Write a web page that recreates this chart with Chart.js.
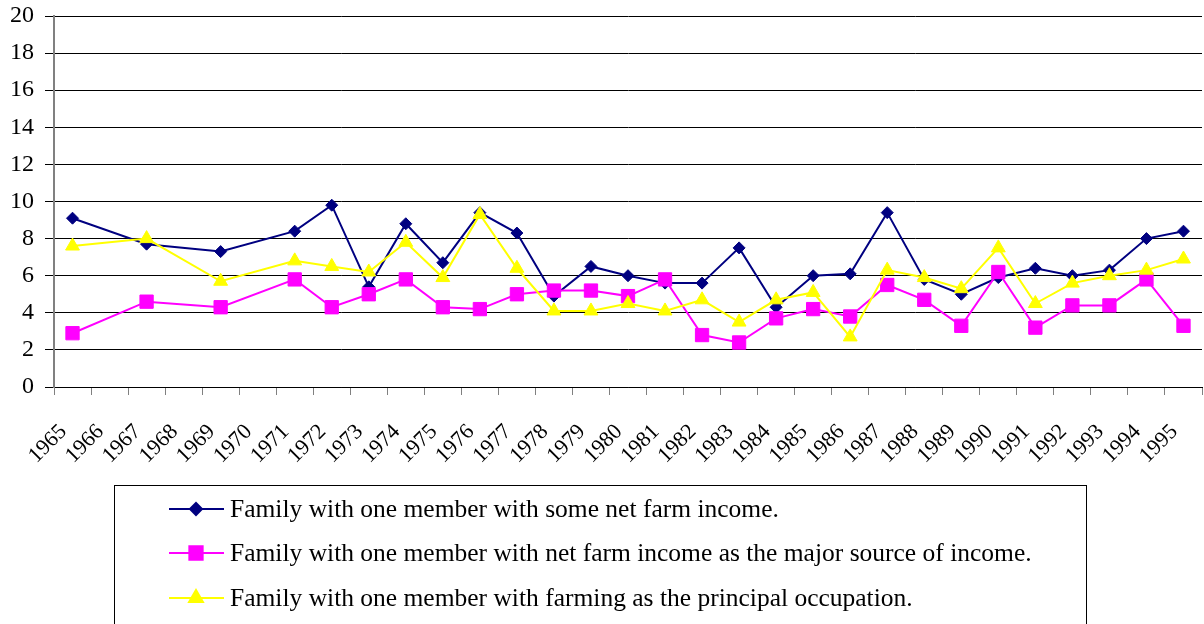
<!DOCTYPE html>
<html>
<head>
<meta charset="utf-8">
<script src="https://cdn.jsdelivr.net/npm/chart.js@4"></script>
<style>
  body { margin: 0; background: #fff; }
  canvas { display: block; }
</style>
</head>
<body>
<canvas id="farm" width="1204" height="624"></canvas>
<script>
var years = ['1965','1966','1967','1968','1969','1970','1971','1972','1973','1974','1975','1976','1977','1978','1979','1980',
             '1981','1982','1983','1984','1985','1986','1987','1988','1989','1990','1991','1992','1993','1994','1995'];

var someIncome = [9.1,null,7.7,null,7.3,null,8.4,9.8,5.4,8.8,6.7,9.4,8.3,4.9,6.5,6.0,
                  5.6,5.6,7.5,4.3,6.0,6.1,9.4,5.8,5.0,5.9,6.4,6.0,6.3,8.0,8.4];
var majorSource = [2.9,null,4.6,null,4.3,null,5.8,4.3,5.0,5.8,4.3,4.2,5.0,5.2,5.2,4.9,
                   5.8,2.8,2.4,3.7,4.2,3.8,5.5,4.7,3.3,6.2,3.2,4.4,4.4,5.8,3.3];
var principalOcc = [7.6,null,8.0,null,5.7,null,6.8,6.5,6.2,7.8,5.9,9.3,6.4,4.1,4.1,4.5,
                    4.1,4.7,3.5,4.7,5.1,2.7,6.3,5.9,5.3,7.5,4.5,5.6,6.0,6.3,6.9];

var seriesNames = ['Family with one member with some net farm income.',
                   'Family with one member with net farm income as the major source of income.',
                   'Family with one member with farming as the principal occupation.'];

var serif = "'Liberation Serif', 'DejaVu Serif', serif";

// legend drawn in a box like the original spreadsheet chart
var boxLegend = {
    id: 'boxLegend',
    afterDraw: function(chart) {
        var ctx = chart.ctx;
        ctx.save();
        ctx.strokeStyle = '#000';
        ctx.lineWidth = 1;
        ctx.strokeRect(114.5, 485.5, 972, 160);
        var rows = [509, 553, 598];
        chart.data.datasets.forEach(function(ds, i) {
            var y = rows[i];
            ctx.strokeStyle = ds.borderColor;
            ctx.lineWidth = 2;
            ctx.beginPath();
            ctx.moveTo(169, y);
            ctx.lineTo(224, y);
            ctx.stroke();
            ctx.fillStyle = ds.backgroundColor;
            ctx.strokeStyle = ds.borderColor;
            Chart.helpers.drawPoint(ctx, {pointStyle: ds.pointStyle, radius: ds.pointRadius, rotation: 0, borderWidth: 1}, 196, y);
            ctx.fillStyle = '#000';
            ctx.font = '25.5px ' + serif;
            ctx.textBaseline = 'middle';
            ctx.textAlign = 'left';
            ctx.fillText(ds.label, 230, y + 1);
        });
        ctx.restore();
    }
};

var ctx = document.getElementById('farm').getContext('2d');
var farmChart = new Chart(ctx, {
    type: 'line',
    data: {
        labels: years,
        datasets: [{
            label: seriesNames[0],
            data: someIncome,
            borderColor: '#000080',
            backgroundColor: '#000080',
            pointStyle: 'rectRot',
            pointRadius: 6,
            order: 3
        }, {
            label: seriesNames[1],
            data: majorSource,
            borderColor: '#FF00FF',
            backgroundColor: '#FF00FF',
            pointStyle: 'rect',
            pointRadius: 9.4,
            order: 2
        }, {
            label: seriesNames[2],
            data: principalOcc,
            borderColor: '#FFFF00',
            backgroundColor: '#FFFF00',
            pointStyle: 'triangle',
            pointRadius: 8,
            order: 1
        }]
    },
    options: {
        responsive: false,
        animation: false,
        devicePixelRatio: 1,
        spanGaps: true,
        layout: { autoPadding: false, padding: { top: 16, right: 2, bottom: 0, left: 0 } },
        elements: {
            line: { borderWidth: 2, tension: 0 },
            point: { borderWidth: 1, hoverRadius: 8 }
        },
        plugins: {
            legend: { display: false },
            tooltip: { enabled: false }
        },
        scales: {
            x: {
                offset: true,
                grid: { offset: true, drawOnChartArea: false, color: '#808080', tickLength: 8 },
                border: { color: '#000', width: 1 },
                ticks: { color: '#000', font: { family: serif, size: 22 }, maxRotation: 45, minRotation: 45, autoSkip: false, padding: 24, labelOffset: -9 },
                afterFit: function(scale) {
                    scale.height = 237;
                    scale.paddingLeft = 0;
                    scale.paddingRight = 0;
                }
            },
            y: {
                min: 0,
                max: 20,
                ticks: { stepSize: 2, color: '#000', font: { family: serif, size: 24 }, padding: 11 },
                grid: { color: '#000', tickLength: 9 },
                border: { color: '#808080', width: 2 },
                afterFit: function(scale) {
                    scale.width = 54;
                    scale.paddingTop = 0;
                    scale.paddingBottom = 0;
                }
            }
        }
    },
    plugins: [boxLegend]
});
</script>
</body>
</html>
